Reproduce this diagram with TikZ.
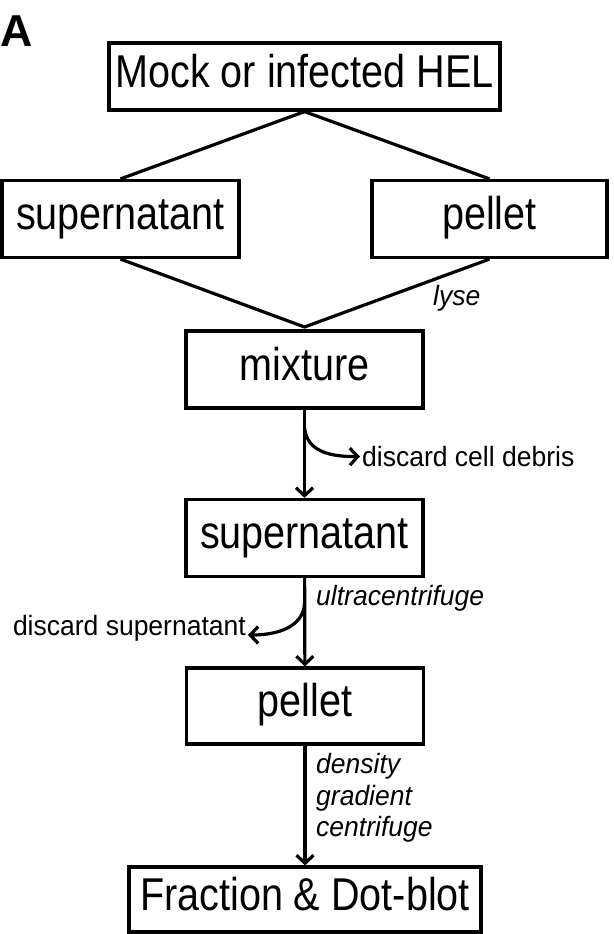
\documentclass[tikz,border=0pt]{standalone}
\usepackage{fontspec}
\setmainfont{Liberation Sans}
\newfontfamily\boxfont[FakeStretch=0.86]{Liberation Sans}
\newfontfamily\notefont[FakeStretch=0.95]{Liberation Sans}
\usepackage{tikz}
\usetikzlibrary{arrows.meta}
\tikzset{
    stage/.style = {rectangle, draw=black, line width=3.2pt, align=center, inner sep=0pt, minimum width=237pt, minimum height=77pt, font=\boxfont\fontsize{46}{50}\selectfont, text height=32pt, text depth=11pt},
    note/.style = {inner sep=2pt, font=\notefont\fontsize{27.9}{31.7}\selectfont},
    cue/.style = {note, font=\notefont\fontsize{27.9}{31.7}\selectfont\itshape, align=left},
    link/.style = {-, line width=3.2pt},
    flow/.style = {-{Straight Barb[length=8pt,width=17pt]}, line width=3.2pt}
}
\begin{document}
\begin{tikzpicture}[x=1pt, y=-1pt]
\useasboundingbox (0,0) rectangle (613,934);
\node[anchor=base west, inner sep=0pt, font=\fontsize{44.7}{48}\selectfont\bfseries] (panel) at (0,47) {A};
%
\node[stage, minimum width=391pt, minimum height=67pt] at (304.5,76.5) (mock) {Mock or infected HEL};
\node[stage] at (120.5,219) (supl) {supernatant};
\node[stage, minimum width=235pt] at (489.5,219) (pelr) {pellet};
\node[stage] at (304.5,369.5) (mix) {mixture};
\node[stage] at (304.5,538) (sup) {supernatant};
\node[stage, minimum height=76pt] at (305,706) (pel) {pellet};
\node[stage, minimum width=352pt, minimum height=65pt] at (305,899.5) (frac) {Fraction \& Dot-blot};
%
\coordinate (join) at (304.5,327);
\coordinate (br1) at (304.5,427);
\coordinate (br2) at (304.5,603);
%
\node[note, anchor=west] (dcell) at (360,456.5) {discard cell debris};
\node[note, anchor=base east] (dsup) at (248,635) {discard supernatant};
\node[cue, anchor=base west] (lyse) at (431,305) {lyse};
\node[cue, anchor=base west] (ultra) at (314,605) {ultracentrifuge};
\node[cue, anchor=north west] (dgc) at (314,751) {density\\gradient\\centrifuge};
%
\draw[link] (mock.south) -- (supl.north);
\draw[link] (mock.south) -- (pelr.north);
\draw[link] (supl.south) -- (join) -- (pelr.south);
%
\draw[flow] (mix) -- (sup);
\draw[flow] (br1) .. controls (306,447) and (322,457) .. (dcell.west);
\draw[flow] (sup) -- (pel);
\draw[flow] (br2) .. controls (304,622) and (286,635) .. (dsup.base east);
\draw[flow] (pel) -- (frac);
\end{tikzpicture}
\end{document}
